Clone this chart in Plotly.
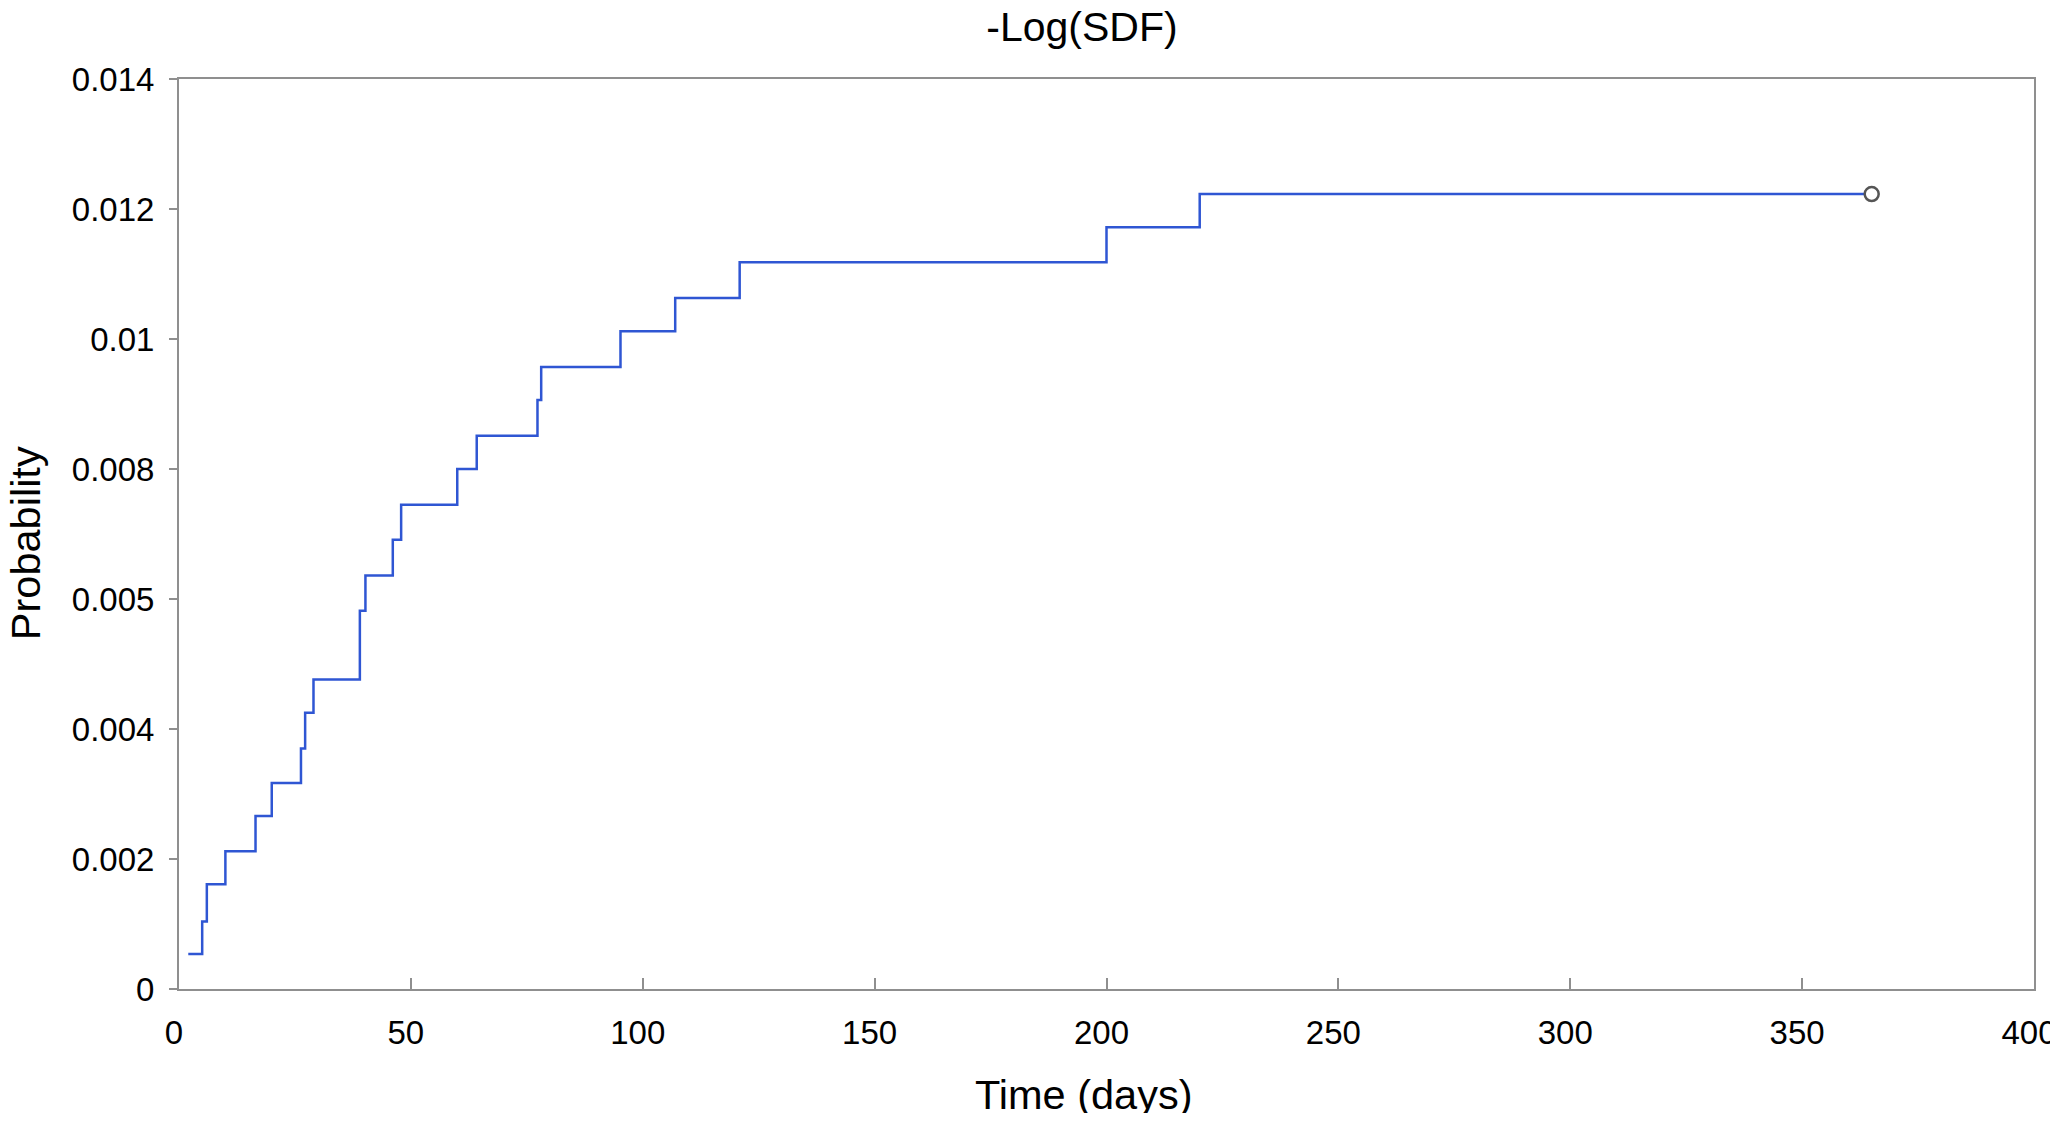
import plotly.graph_objects as go

# Step data (time in days, cumulative -log(SDF))
times = [2, 5, 6, 10, 16.5, 20, 26.3, 27.2, 29, 39, 40.2, 46.1, 47.9, 60, 64.2,
         77.3, 78.1, 95.2, 107, 120.9, 200, 220.1, 365]
values = [0.00054, 0.00104, 0.00161, 0.00212, 0.00266, 0.00317, 0.00370, 0.00425,
          0.00476, 0.00582, 0.00636, 0.00691, 0.00745, 0.00800, 0.00851, 0.00906,
          0.00957, 0.01012, 0.01063, 0.01118, 0.01172, 0.01223, 0.01223]

y_tickvals = [0, 0.002, 0.004, 0.006, 0.008, 0.010, 0.012, 0.014]
y_ticktext = ["0", "0.002", "0.004", "0.005", "0.008", "0.01", "0.012", "0.014"]
x_tickvals = [0, 50, 100, 150, 200, 250, 300, 350, 400]

FONT = "Liberation Sans, Arial, Helvetica, sans-serif"
AXIS_COL = "#8f8f8f"
W, H = 2050, 1105

fig = go.Figure()
fig.add_trace(go.Scatter(
    x=times, y=values, mode="lines", line_shape="hv",
    line=dict(color="#2f56d3", width=2.5), showlegend=False, hoverinfo="skip"))
fig.add_trace(go.Scatter(
    x=[times[-1]], y=[values[-1]], mode="markers",
    marker=dict(symbol="circle", size=14, color="white",
                line=dict(color="#555555", width=2.5)),
    showlegend=False, hoverinfo="skip"))

fig.update_layout(
    width=W, height=H,
    margin=dict(l=171, r=24, t=71, b=124, autoexpand=False),
    paper_bgcolor="white", plot_bgcolor="white",
    font=dict(family=FONT, color="black", size=33),
    title=dict(text="-Log(SDF)", font=dict(size=41, family=FONT, color="black"),
               x=1074 / W, xref="container", xanchor="center",
               y=1 - 19 / H, yref="container", yanchor="middle"),
    xaxis=dict(range=[0, 400], tickvals=x_tickvals, showgrid=False, zeroline=False,
               showline=True, linecolor=AXIS_COL, linewidth=2, mirror=True,
               ticks="inside", ticklen=11, tickwidth=1.5, tickcolor=AXIS_COL,
               tickfont=dict(size=33, family=FONT, color="black"),
               ticklabelstandoff=13, ticklabelshift=-5,
               ticklabeloverflow="allow", automargin=False),
    yaxis=dict(range=[0, 0.014], tickvals=y_tickvals, ticktext=y_ticktext,
               showgrid=False, zeroline=False,
               showline=True, linecolor=AXIS_COL, linewidth=2, mirror=True,
               ticks="outside", ticklen=8, tickwidth=1.5, tickcolor=AXIS_COL,
               tickfont=dict(size=33, family=FONT, color="black"),
               ticklabelstandoff=8, ticklabeloverflow="allow", automargin=False),
    annotations=[
        dict(text="Time (days)", xref="paper", yref="paper", x=0.4879, y=-0.1154,
             xanchor="center", yanchor="middle", showarrow=False,
             font=dict(size=41.5, family=FONT, color="black")),
        dict(text="Probability", xref="paper", yref="paper", x=-0.0830, y=0.49,
             xanchor="center", yanchor="middle", showarrow=False, textangle=-90,
             font=dict(size=41.5, family=FONT, color="black")),
    ],
)

fig.write_html("out.html")
